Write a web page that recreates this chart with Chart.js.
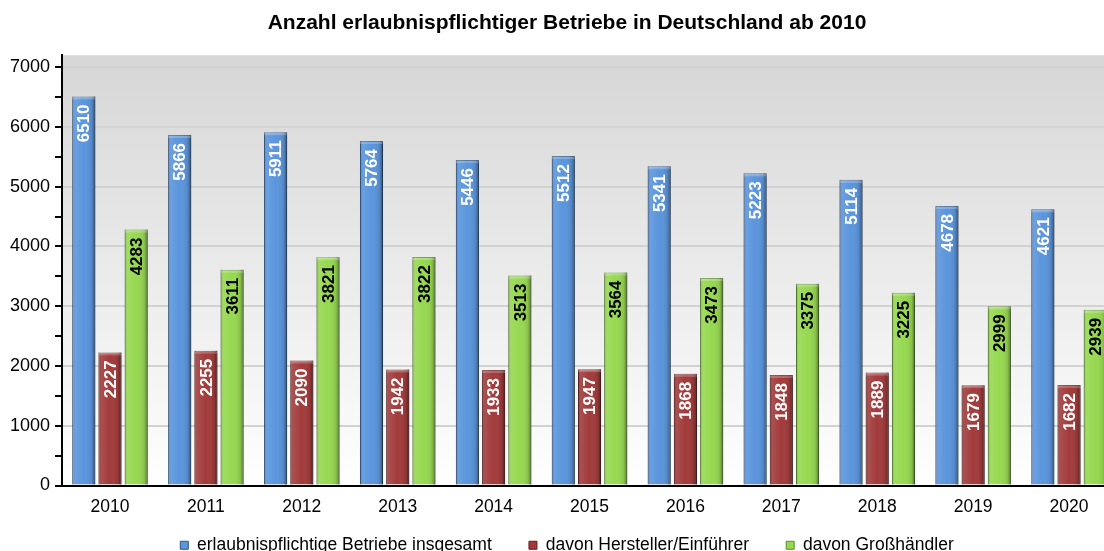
<!DOCTYPE html>
<html>
<head>
<meta charset="utf-8">
<script src="https://cdn.jsdelivr.net/npm/chart.js@4"></script>
<style>
  html, body { margin: 0; padding: 0; background: #fff; overflow: hidden; }
  #wrap { width: 1135px; height: 551px; position: relative; }
</style>
</head>
<body>
<div id="wrap"><canvas id="c"></canvas></div>
<script>
// ---- data ----
const years = ['2010', '2011', '2012', '2013', '2014', '2015', '2016', '2017', '2018', '2019', '2020'];
const gesamt = [6510, 5866, 5911, 5764, 5446, 5512, 5341, 5223, 5114, 4678, 4621];
const hersteller = [2227, 2255, 2090, 1942, 1933, 1947, 1868, 1848, 1889, 1679, 1682];
const grosshaendler = [4283, 3611, 3821, 3822, 3513, 3564, 3473, 3375, 3225, 2999, 2939];
const seriesNames = ['erlaubnispflichtige Betriebe insgesamt', 'davon Hersteller/Einführer', 'davon Großhändler'];
const yTicks = [0, 500, 1000, 1500, 2000, 2500, 3000, 3500, 4000, 4500, 5000, 5500, 6000, 6500, 7000];
const titleText = 'Anzahl erlaubnispflichtiger Betriebe in Deutschland ab 2010';

const colors = ['#5b95dc', '#a23b3b', '#97d851'];
const edgeColors = ['#2f5684', '#5e1f1f', '#5a8a2a'];
const labelColors = ['#ffffff', '#ffffff', '#000000'];

// plot area: grey-to-white vertical gradient
const plotBackground = {
    id: 'plotBackground',
    beforeDraw(chart) {
        const { ctx, chartArea: a } = chart;
        const g = ctx.createLinearGradient(0, a.top, 0, a.bottom);
        g.addColorStop(0, '#d6d6d6');
        g.addColorStop(1, '#ffffff');
        ctx.save();
        ctx.fillStyle = g;
        ctx.fillRect(a.left, a.top, a.right - a.left, a.bottom - a.top);
        ctx.restore();
    }
};

// title and legend sit a little right of centre in the original
const centreShift = {
    id: 'centreShift',
    afterLayout(chart) {
        if (chart.titleBlock) chart.titleBlock.left += 12;
        if (chart.legend) chart.legend.left += 12;
    }
};

// shading over bars for the bevelled look + rotated value labels
const barDecor = {
    id: 'barDecor',
    afterDatasetsDraw(chart) {
        const ctx = chart.ctx;
        chart.data.datasets.forEach((ds, di) => {
            const meta = chart.getDatasetMeta(di);
            meta.data.forEach((bar, i) => {
                const w = bar.width, x0 = bar.x - w / 2, top = bar.y, h = bar.base - bar.y;
                ctx.save();
                const g = ctx.createLinearGradient(x0, 0, x0 + w, 0);
                g.addColorStop(0, 'rgba(0,0,0,0.25)');
                g.addColorStop(0.12, 'rgba(255,255,255,0.10)');
                g.addColorStop(0.5, 'rgba(255,255,255,0.0)');
                g.addColorStop(0.85, 'rgba(0,0,0,0.10)');
                g.addColorStop(1, 'rgba(0,0,0,0.45)');
                ctx.fillStyle = g;
                ctx.fillRect(x0, top, w, h);
                ctx.fillStyle = 'rgba(255,255,255,0.22)';
                ctx.fillRect(x0, top, w, 3);
                ctx.restore();

                // value label
                ctx.save();
                ctx.translate(bar.x, top + 8);
                ctx.rotate(-Math.PI / 2);
                ctx.font = 'bold 17px "Liberation Sans", Arial, sans-serif';
                ctx.fillStyle = labelColors[di];
                ctx.textAlign = 'right';
                ctx.textBaseline = 'middle';
                ctx.fillText(String(ds.data[i]), 0, 1);
                ctx.restore();
            });
        });
    }
};

const font = '"Liberation Sans", Arial, sans-serif';

new Chart(document.getElementById('c'), {
    type: 'bar',
    data: {
        labels: years,
        datasets: [gesamt, hersteller, grosshaendler].map((d, i) => ({
            label: seriesNames[i],
            data: d,
            backgroundColor: colors[i],
            borderColor: edgeColors[i],
            borderWidth: 1,
            borderSkipped: 'bottom',
            barPercentage: 0.88,
            categoryPercentage: 0.82
        }))
    },
    options: {
        responsive: true,
        maintainAspectRatio: false,
        animation: false,
        layout: { padding: { left: 5, right: 18, top: 0, bottom: -13 } },
        plugins: {
            title: {
                display: true,
                text: titleText,
                color: '#000',
                font: { family: font, size: 21, weight: 'bold' },
                padding: { top: 11, bottom: 19 }
            },
            legend: {
                position: 'bottom',
                labels: {
                    color: '#000',
                    font: { family: font, size: 17.5 },
                    boxWidth: 8,
                    boxHeight: 8,
                    padding: 8,
                    generateLabels(chart) {
                        // trailing spaces widen the gap between entries
                        return chart.data.datasets.map((ds, i) => ({
                            text: i < chart.data.datasets.length - 1 ? ds.label + '      ' : ds.label,
                            fillStyle: colors[i],
                            strokeStyle: edgeColors[i],
                            lineWidth: 1,
                            datasetIndex: i
                        }));
                    }
                }
            },
            tooltip: { enabled: false }
        },
        scales: {
            x: {
                grid: { display: false, drawTicks: false },
                border: { color: '#000', width: 2 },
                ticks: { color: '#000', font: { family: font, size: 17.5 }, padding: 11 }
            },
            y: {
                min: 0,
                max: 7200,
                afterBuildTicks(scale) {
                    scale.ticks = yTicks.map(v => ({ value: v }));
                },
                ticks: {
                    autoSkip: false,
                    color: '#000',
                    font: { family: font, size: 18 },
                    padding: 5,
                    callback: v => (v % 1000 === 0 ? String(v) : '')
                },
                grid: {
                    drawOnChartArea: true,
                    color: ctx => (ctx.tick && ctx.tick.value % 1000 === 0 && ctx.tick.value !== 0 ? '#d2d2d2' : 'rgba(0,0,0,0)'),
                    lineWidth: 2,
                    tickColor: '#000',
                    tickLength: 7,
                    tickWidth: 2
                },
                border: { color: '#000', width: 2 }
            }
        }
    },
    plugins: [plotBackground, centreShift, barDecor]
});
</script>
</body>
</html>
